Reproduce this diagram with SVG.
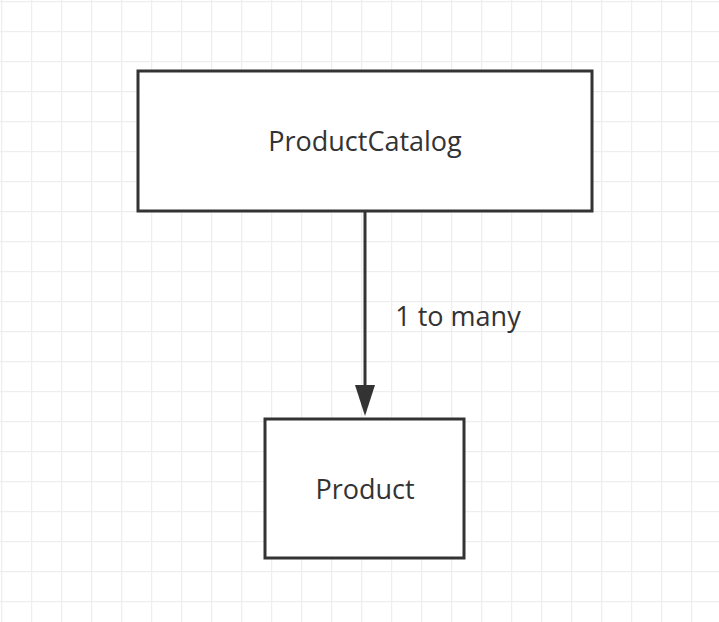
<svg xmlns="http://www.w3.org/2000/svg" width="719" height="622" viewBox="0 0 719 622">
<defs>
<pattern id="grid" x="1" y="1" width="30" height="30" patternUnits="userSpaceOnUse">
<path d="M0 0H30M0 0V30" fill="none" stroke="#eeeeee" stroke-width="2.5"/>
</pattern>
<style>
.box{fill:#fff;stroke:#333;stroke-width:3}
.lbl{font-family:"Open Sans","Noto Sans",sans-serif;font-size:27px;fill:#333;text-anchor:middle}
.edge{stroke:#333;stroke-width:3;fill:none}
.head{fill:#333}
</style>
</defs>
<rect width="719" height="622" fill="#fff"/>
<rect width="719" height="622" fill="url(#grid)"/>
<g id="connectors">
<path class="edge" d="M365 212V386"/>
<path class="head" d="M355 385L375 385L365 416Z"/>
<text class="lbl" x="458" y="326">1 to many</text>
</g>
<g id="productcatalog">
<rect class="box" x="138" y="71" width="454" height="140"/>
<text class="lbl" x="365" y="151">ProductCatalog</text>
</g>
<g id="product">
<rect class="box" x="265" y="419" width="199" height="139"/>
<text class="lbl" x="365" y="499">Product</text>
</g>
</svg>
